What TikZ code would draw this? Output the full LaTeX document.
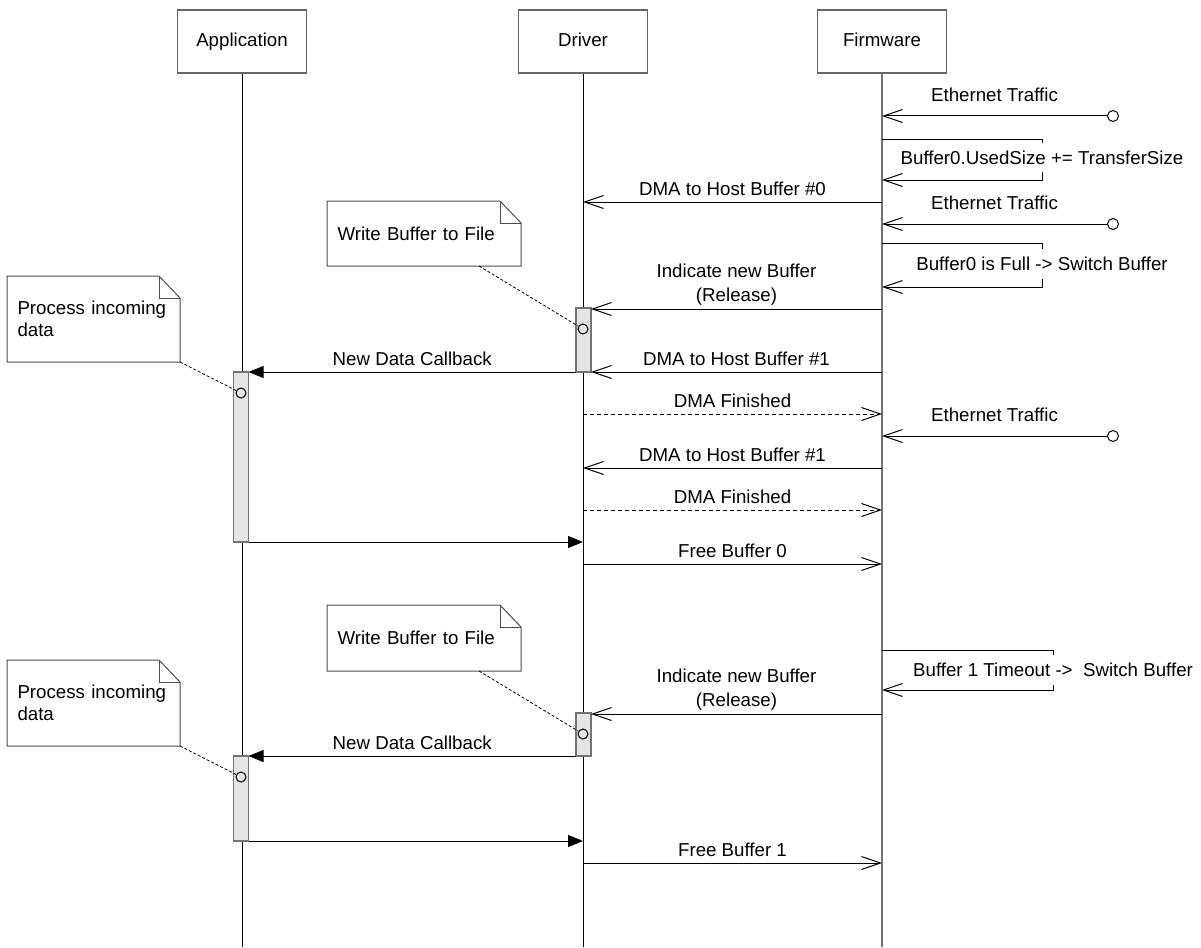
\documentclass[tikz,border=0pt]{standalone}
\usepackage{fontspec}
\setmainfont{Liberation Sans}
\usetikzlibrary{arrows.meta,calc}

\begin{document}
\begin{tikzpicture}[x=1pt,y=-1pt,line width=1pt,font=\fontsize{18.7}{24}\selectfont]
\tikzstyle{actor}=[draw=black!60,line width=1.3pt,fill=white,minimum width=129pt,minimum height=63pt,inner sep=0pt,text height=13.5pt,text depth=4pt]
\tikzstyle{msg}=[-{Straight Barb[length=19pt,width=13pt]}]
\tikzstyle{reply}=[msg,dash pattern=on 4pt off 3pt]
\tikzstyle{call}=[-{Triangle[length=15pt,width=12pt]}]
\tikzstyle{act}=[draw=black!55,line width=1.3pt,fill=black!10,minimum width=15pt,inner sep=0pt,outer sep=0pt,anchor=north]
\tikzstyle{src}=[circle,draw,fill=white,minimum size=11pt,inner sep=0pt]
\tikzstyle{pin}=[circle,draw,minimum size=10pt,inner sep=0pt]
\tikzstyle{note}=[align=left,inner xsep=10pt,inner ysep=0pt,anchor=north west,font=\fontsize{18.7}{22}\selectfont]
\tikzstyle{notebox}=[draw=black!70]
\tikzstyle{notelink}=[dash pattern=on 3pt off 2pt,line width=0.8pt]
\tikzstyle{lbl}=[midway,above=6pt,inner sep=0pt]
\tikzstyle{selflbl}=[fill=white,inner xsep=2pt,inner ysep=8pt]
\useasboundingbox (0,0) rectangle (1201,947);

% lifelines
\node[actor] (app) at (242,41.5) {Application};
\node[actor] (drv) at (583,41.5) {Driver};
\node[actor] (fw) at (882,41.5) {Firmware};
\foreach \n/\c/\w in {app/black/1pt,drv/black/1pt,fw/black!55/1.6pt}
	\draw[draw=\c,line width=\w] (\n.south) -- (\n.south |- 0,947);

% message levels
\foreach \m/\y in {
	e1/116,s1a/139,s1b/180,dma0/202,e2/224,s2a/243,s2b/287,
	ind1/309,cb1/372,fin1/414,e3/436,dma1/468,fin2/510,ret1/542,free0/564,
	s3a/650,s3b/690,ind2/714,cb2/756,ret2/841,free1/863} {
	\coordinate (a-\m) at (242,\y);
	\coordinate (d-\m) at (583,\y);
	\coordinate (f-\m) at (882,\y);
}

% activations
\node[act,minimum height=64pt] (actd1) at (583.5,308) {};
\node[act,minimum height=170pt] (acta1) at (241,372) {};
\node[act,minimum height=43pt] (actd2) at (583.5,713) {};
\node[act,minimum height=85pt] (acta2) at (241,756) {};

% external sources
\node[src] (src1) at (1113,116) {};
\node[src] (src2) at (1113,224) {};
\node[src] (src3) at (1113,436) {};

% notes
\node[note,text width=173pt,minimum height=64pt] (n1) at (327,201) {Write Buffer to File};
\node[note,text width=152pt,minimum height=85pt] (n2) at (7,276) {Process incoming\\data};
\node[note,text width=173pt,minimum height=65pt] (n3) at (327,605) {Write Buffer to File};
\node[note,text width=152pt,minimum height=85pt] (n4) at (7,660) {Process incoming\\data};
\foreach \n in {n1,n2,n3,n4} {
	\draw[notebox] (\n.south west) -- (\n.north west) -- ([xshift=-21pt]\n.north east)
		-- ([yshift=-22pt]\n.north east) -- (\n.south east) -- cycle;
	\draw[notebox] ([xshift=-21pt]\n.north east) |- ([yshift=-22pt]\n.north east);
}

% first buffer
\draw[msg] (src1) -- (f-e1) node[midway,above=14pt,inner sep=0pt] {Ethernet Traffic};
\draw[msg] (f-s1a) -- ++(160,0) |- (f-s1b);
\node[selflbl] (l1) at ($(f-s1a)!0.5!(f-s1b)+(160,-2)$) {Buffer0.UsedSize += TransferSize};
\draw[msg] (f-dma0) -- (d-dma0) node[lbl] {DMA to Host Buffer \#0};
\draw[msg] (src2) -- (f-e2) node[midway,above=14pt,inner sep=0pt] {Ethernet Traffic};
\draw[msg] (f-s2a) -- ++(160,0) |- (f-s2b);
\node[selflbl] (l2) at ($(f-s2a)!0.5!(f-s2b)+(160,-1)$) {Buffer0 is Full -> Switch Buffer};
\draw[msg] (f-ind1) -- (actd1.east |- f-ind1)
	node[midway,anchor=south,fill=white,align=center,inner xsep=0pt,inner ysep=3.5pt] {Indicate new Buffer\\(Release)};
\draw[call] (actd1.south west) -- (acta1.north east) node[lbl] {New Data Callback};
\draw[msg] (f-cb1) -- (actd1.south east) node[lbl] {DMA to Host Buffer \#1};
\draw[reply] (d-fin1) -- (f-fin1) node[lbl] {DMA Finished};
\draw[msg] (src3) -- (f-e3) node[midway,above=14pt,inner sep=0pt] {Ethernet Traffic};
\draw[msg] (f-dma1) -- (d-dma1) node[lbl] {DMA to Host Buffer \#1};
\draw[reply] (d-fin2) -- (f-fin2) node[lbl] {DMA Finished};
\draw[call] (acta1.south east) -- (d-ret1);
\draw[msg] (d-free0) -- (f-free0) node[lbl] {Free Buffer 0};

% second buffer
\draw[msg] (f-s3a) -- ++(171,0) |- (f-s3b);
\node[selflbl] (l3) at ($(f-s3a)!0.5!(f-s3b)+(171,0)$) {Buffer 1 Timeout -> \ Switch Buffer};
\draw[msg] (f-ind2) -- (actd2.east |- f-ind2)
	node[midway,anchor=south,fill=white,align=center,inner xsep=0pt,inner ysep=3.5pt] {Indicate new Buffer\\(Release)};
\draw[call] (actd2.south west) -- (acta2.north east) node[lbl] {New Data Callback};
\draw[call] (acta2.south east) -- (d-ret2);
\draw[msg] (d-free1) -- (f-free1) node[lbl] {Free Buffer 1};

% note links
\node[pin] (c1) at (583,329) {};
\node[pin] (c2) at (241,393) {};
\node[pin] (c3) at (583,734) {};
\node[pin] (c4) at (241,777) {};
\draw[notelink] ([xshift=-42pt]n1.south east) -- (c1);
\draw[notelink] (n2.south east) -- (c2);
\draw[notelink] ([xshift=-42pt]n3.south east) -- (c3);
\draw[notelink] (n4.south east) -- (c4);
\end{tikzpicture}
\end{document}
